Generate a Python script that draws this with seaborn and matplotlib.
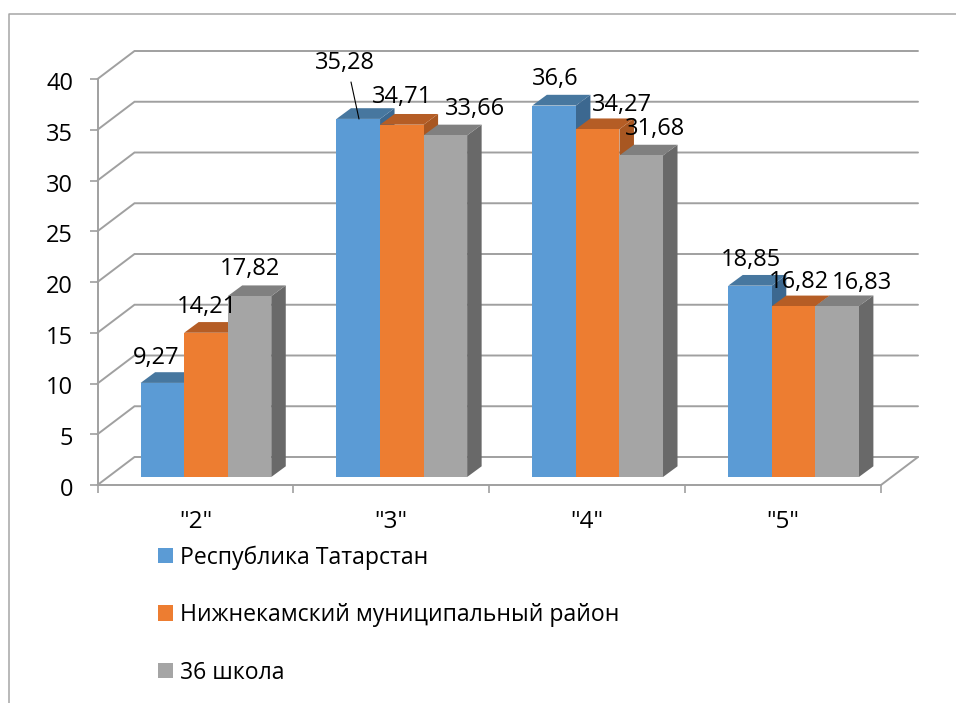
import matplotlib
matplotlib.use('Agg')
import matplotlib.pyplot as plt
from matplotlib.lines import Line2D
from matplotlib.transforms import ScaledTranslation
import pandas as pd
import seaborn as sns

categories = ['"2"', '"3"', '"4"', '"5"']
series_names = ['Республика Татарстан', 'Нижнекамский муниципальный район', '36 школа']
tatarstan = [9.27, 35.28, 36.6, 18.85]
nizhnekamsk = [14.21, 34.71, 34.27, 16.82]
school36 = [17.82, 33.66, 31.68, 16.83]
y_ticks = [0, 5, 10, 15, 20, 25, 30, 35, 40]

front_colors = ['#5B9BD5', '#ED7D31', '#A5A5A5']
top_colors = ['#47779F', '#B55D25', '#808080']
side_colors = ['#3C6890', '#A85722', '#696969']
GRID = '#A0A0A0'

W, H = 956, 703
X0, X1 = 97.5, 881      # front plane of the axis box, pixels
Y0, Y40 = 485, 79
WALL_DX, WALL_DY = 37, 28
BAR_DX, BAR_DY = 14.5, 10.7

# label centres in pixels, same order as the bars
label_px = [
    [(156, 358), (345, 63), (555, 79), (751, 260)],
    [(207, 307), (402, 97), (622, 105), (799, 282)],
    [(250, 269), (475, 109), (655, 129), (862, 283)],
]

sns.set_style('white')
plt.rcParams['font.family'] = ['Open Sans', 'DejaVu Sans']
plt.rcParams['text.color'] = 'black'
plt.rcParams['xtick.labelcolor'] = 'black'
plt.rcParams['ytick.labelcolor'] = 'black'
FS = 17

df = pd.DataFrame({
    'cat': categories * 3,
    'series': [n for n in series_names for _ in categories],
    'value': tatarstan + nizhnekamsk + school36,
})

fig = plt.figure(figsize=(W / 100, H / 100), dpi=100, facecolor='white')

def axes_rect(left, base):
    return [left / W, 1 - base / H, (X1 - X0) / W, (Y0 - Y40) / H]

# Axis box: ticks, walls and grid
ax = fig.add_axes(axes_rect(X0, Y0), zorder=0)
ax.set_xlim(-0.5, 3.5)
ax.set_ylim(0, 40)
ax.patch.set_visible(False)
for s in ['top', 'right']:
    ax.spines[s].set_visible(False)
for s in ['left', 'bottom']:
    ax.spines[s].set_color(GRID)
    ax.spines[s].set_linewidth(1.4)
ax.set_yticks(y_ticks)
ax.set_xticks(range(len(categories)))
ax.set_xticklabels(categories, fontsize=17.5)
ax.set_xticks([k - 0.5 for k in range(len(categories) + 1)], minor=True)
ax.tick_params(axis='y', length=6, width=1.2, color=GRID, pad=11.5, labelsize=FS, left=True)
ax.tick_params(axis='x', which='major', length=0, pad=18)
ax.tick_params(axis='x', which='minor', length=6, width=1.2, color=GRID, bottom=True)

# Calibri-like labels sit a bit lower in the reference
nudge = ScaledTranslation(0, -2 / 100, fig.dpi_scale_trans)
for lab in ax.get_yticklabels():
    lab.set_transform(lab.get_transform() + nudge)

dx = WALL_DX / (X1 - X0) * 4
dy = WALL_DY / (Y0 - Y40) * 40
for t in y_ticks:
    ax.plot([-0.5, -0.5 + dx, 3.5 + dx], [t, t + dy, t + dy], color=GRID, lw=1.4,
            clip_on=False, solid_joinstyle='miter')
ax.plot([3.5, 3.5 + dx], [0, dy], color=GRID, lw=1.4, clip_on=False)

# Bars sit in the middle of the depth, so their axes is shifted
ax_bars = fig.add_axes(axes_rect(X0 + 10.5, 477), zorder=1)
sns.barplot(data=df, x='cat', y='value', hue='series', hue_order=series_names,
            palette=front_colors, saturation=1, width=0.667, gap=0,
            errorbar=None, linewidth=0, ax=ax_bars)
ax_bars.set_xlim(-0.5, 3.5)
ax_bars.set_ylim(0, 40)
ax_bars.axis('off')

bdx = BAR_DX / (X1 - X0) * 4
bdy = BAR_DY / (Y0 - Y40) * 40
for i, container in enumerate(ax_bars.containers):
    for bar in container:
        a, b = bar.get_x(), bar.get_x() + bar.get_width()
        v = bar.get_height()
        bar.set_zorder(3 + i * 3 + 2)
        bar.set_clip_on(False)
        ax_bars.fill([b, b + bdx, b + bdx, b], [0, bdy, v + bdy, v], color=side_colors[i],
                     lw=0, clip_on=False, zorder=3 + i * 3)
        ax_bars.fill([a, a + bdx, b + bdx, b], [v, v + bdy, v + bdy, v], color=top_colors[i],
                     lw=0, clip_on=False, zorder=3 + i * 3 + 1)

for vals, pts in zip([tatarstan, nizhnekamsk, school36], label_px):
    for v, (px, py) in zip(vals, pts):
        fig.text(px / W, 1 - py / H, str(v).replace('.', ','), ha='center', va='center',
                 fontsize=FS, color='black')

# leader line of the 35,28 label
fig.add_artist(Line2D([351 / W, 359 / W], [1 - 82 / H, 1 - 119 / H], color='black', lw=0.8))

handles, labels = ax_bars.get_legend_handles_labels()
ax_bars.get_legend().remove()
ax_bars.legend(handles, labels, loc='upper left', bbox_to_anchor=(151 / W, 1 - 538.5 / H),
               bbox_transform=fig.transFigure, frameon=False, fontsize=16.6,
               labelcolor='black', handlelength=0.65, handleheight=0.65, handletextpad=0.3,
               labelspacing=1.45, borderpad=0.3, borderaxespad=0)

# outer chart border, cut off by the image edge
fig.add_artist(Line2D([9 / W, 9 / W, 1], [0, 1 - 14 / H, 1 - 14 / H], color='#A6A6A6', lw=1.1))

plt.savefig('out.png', dpi=100, facecolor='white')
